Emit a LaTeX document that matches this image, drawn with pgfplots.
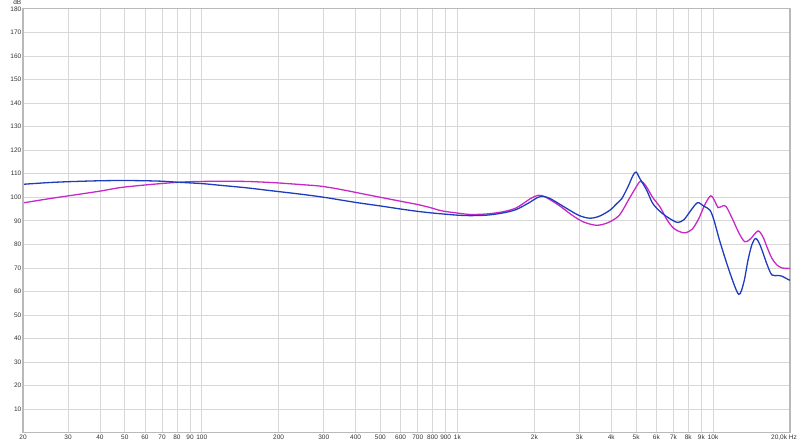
\documentclass[border=0pt]{standalone}
\usepackage{pgfplots}
\pgfplotsset{compat=1.18}
\usepackage{fontspec}
\setmainfont{Liberation Sans}
\definecolor{cblue}{RGB}{30,60,190}
\definecolor{cmag}{RGB}{200,40,200}
\definecolor{gridc}{RGB}{215,215,215}
\definecolor{axc}{RGB}{185,185,185}
\begin{document}
\begin{tikzpicture}
\useasboundingbox (-23pt,-10pt) rectangle (777pt,432.8pt);
\begin{axis}[
  at={(0,0)}, anchor=south west,
  scale only axis, width=767pt, height=424pt,
  xmode=log, log basis x=10,
  xmin=20, xmax=20000, ymin=0, ymax=180,
  xtick={20,30,40,50,60,70,80,90,100,200,300,400,500,600,700,800,900,1000,2000,3000,4000,5000,6000,7000,8000,9000,10000,20000},
  xticklabels={20,30,40,50,60,70,80,90,100,200,300,400,500,600,700,800,900,1k,2k,3k,4k,5k,6k,7k,8k,9k,10k,{}},
  ytick={10,20,30,40,50,60,70,80,90,100,110,120,130,140,150,160,170,180},
  yticklabels={10,20,30,40,50,60,70,80,90,100,110,120,130,140,150,160,170,180},
  minor xtick={}, minor ytick={},
  grid=major,
  major grid style={gridc, line width=0.8pt},
  axis line style={axc, line width=1.2pt},
  tick style={draw=none},
  major tick length=0pt,
  ticklabel style={font=\fontsize{6.5}{7}\selectfont, text=black!80},
  xticklabel style={inner sep=1.5pt},
  yticklabel style={inner sep=1.5pt},
  /pgf/number format/assume math mode=true,
  clip mode=individual,
]
\addplot[cmag, line width=1.3pt, smooth] coordinates {
(20,97.6) (25,99.3) (31,100.8) (40,102.6) (48,104.1) (60,105.2) (75,106.1) (90,106.6)
(118,106.8) (150,106.7) (191,106.2) (250,105.3) (292,104.7) (350,103.3) (457,100.8)
(600,98.3) (700,96.9) (784,95.6) (830,94.8) (881,94.1) (1000,93.3) (1120,92.7)
(1300,92.9) (1500,93.8) (1700,95.5) (1930,99.4) (2070,100.8) (2200,100.2) (2500,96.5)
(2800,92.5) (3100,89.6) (3500,88.1) (3900,89.3) (4300,92.4) (4700,99.4) (4950,103.5)
(5200,106.8) (5450,105) (5800,100) (6200,95.9) (6600,90.5) (7000,86.9) (7400,85.4)
(7800,84.9) (8300,86.5) (8800,91) (9300,97) (9800,100.6) (10200,98) (10460,95.6)
(10900,96.3) (11260,96.0) (11970,90.3) (12600,85) (13300,81.1) (14000,82.3)
(15000,85.7) (15700,83) (16250,78.9) (17000,74) (17800,71.2) (18600,70) (19450,69.8) (20000,69.8)
};
\addplot[cblue, line width=1.3pt, smooth] coordinates {
(20,105.5) (25,106.2) (30,106.6) (40,107.0) (50,107.1) (60,107.0) (70,106.8) (80,106.4)
(100,105.8) (120,105.0) (150,104.0) (186,102.8) (244,101.3) (300,100.0) (400,97.8)
(500,96.3) (600,95.0) (700,94.0) (800,93.3) (900,92.8) (1000,92.4) (1120,92.2)
(1300,92.4) (1500,93.3) (1700,94.8) (1930,98) (2050,99.8) (2160,100.4) (2300,99.5)
(2500,97.2) (2700,95) (3000,92.2) (3300,91.1) (3600,92) (3950,94.5) (4200,97.3)
(4400,99.5) (4650,104.5) (4850,109) (5000,110.7) (5200,107.5) (5500,103) (5800,97.5)
(6200,94) (6600,91.7) (7000,90) (7300,89.3) (7700,90.5) (8200,94.5) (8700,97.7)
(9200,96.2) (9730,94.5) (10100,90) (10650,81) (11650,67.8) (12600,58.8) (13200,64)
(13700,73.3) (14200,80) (14700,82.5) (15300,79.5) (16300,71.2) (17000,67) (18000,66.8)
(18600,66.5) (19650,65.1) (20000,64.8)
};
\draw[axc, line width=2.2pt] (rel axis cs:0,0) -- (rel axis cs:0,1);
\node[font=\fontsize{6.5}{7}\selectfont, text=black!80, anchor=base east, inner sep=1.5pt] at ([yshift=4pt]rel axis cs:0,1) {dB};
\node[font=\fontsize{6.5}{7}\selectfont, text=black!80, anchor=north east, inner sep=1.5pt] at ([xshift=8.5pt]rel axis cs:1,0) {20,0k Hz};
\end{axis}
\end{tikzpicture}
\end{document}
